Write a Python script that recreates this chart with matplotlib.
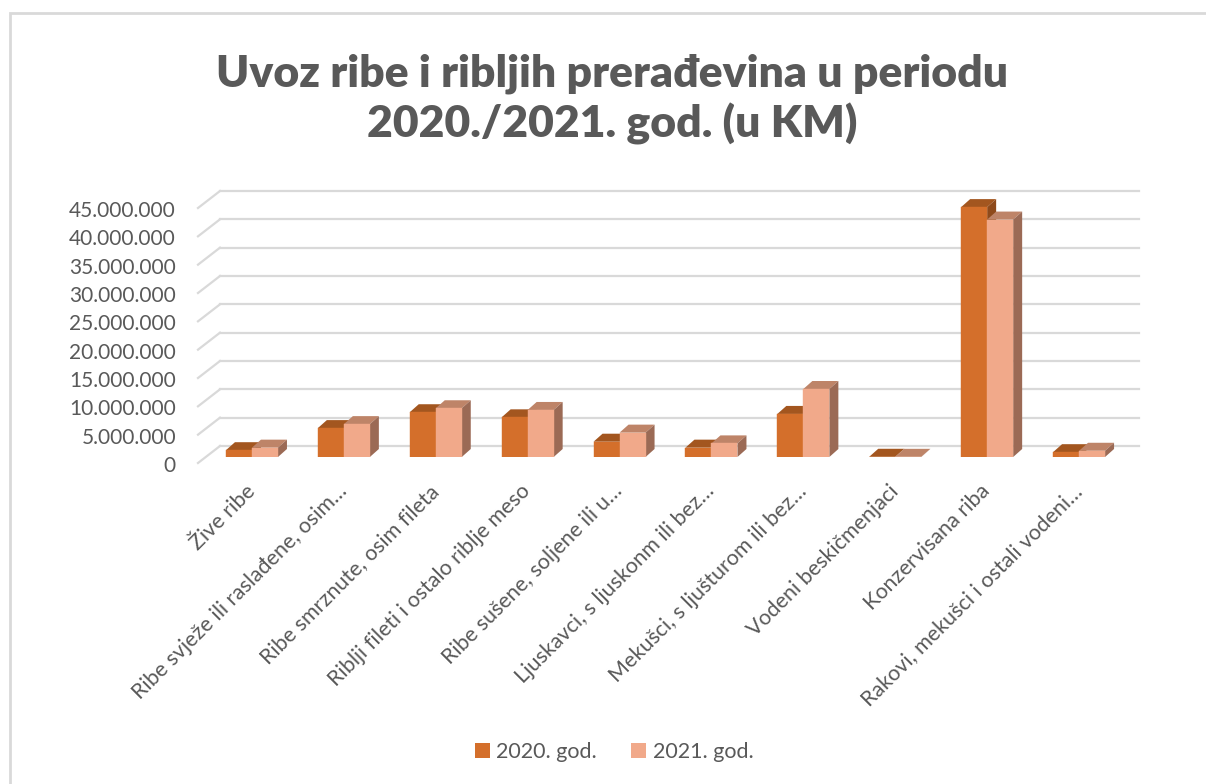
import matplotlib
matplotlib.use("Agg")
import matplotlib.pyplot as plt
from matplotlib.patches import Polygon, Rectangle
from matplotlib.lines import Line2D
from matplotlib.transforms import ScaledTranslation

# data
categories = [
    "Žive ribe",
    "Ribe svježe ili rasla\u0111ene, osim…",
    "Ribe smrznute, osim fileta",
    "Riblji fileti i ostalo riblje meso",
    "Ribe sušene, soljene ili u…",
    "Ljuskavci, s ljuskonm ili bez…",
    "Mekušci, s ljušturom ili bez…",
    "Vodeni beskičmenjaci",
    "Konzervisana riba",
    "Rakovi, mekušci i ostali vodeni…",
]
values_2020 = [1.2e6, 5.1e6, 7.9e6, 7.0e6, 2.7e6, 1.65e6, 7.6e6, 0.04e6, 44.1e6, 0.85e6]
values_2021 = [1.65e6, 5.8e6, 8.6e6, 8.3e6, 4.3e6, 2.4e6, 12.0e6, 0.03e6, 41.9e6, 1.1e6]
series_names = ["2020. god.", "2021. god."]
y_ticks = [0, 5e6, 10e6, 15e6, 20e6, 25e6, 30e6, 35e6, 40e6, 45e6]
title = "Uvoz ribe i ribljih prerađevina u periodu\n2020./2021. god. (u KM)"

# colours: front, top, side
c2020 = ("#D46F2B", "#A3561F", "#8E4A1B")
c2021 = ("#F1A98A", "#BE8468", "#9B6A55")
txt = "#595959"
grid = "#D9D9D9"

plt.rcParams["font.family"] = ["Lato", "DejaVu Sans"]

W, H, DPI = 1206, 784, 100
fig = plt.figure(figsize=(W / DPI, H / DPI), dpi=DPI)
fig.patch.set_facecolor("white")

# bar plane: x -0.5 .. 9.5 -> px 206..1125, y 0..45M -> px 457..202
ax = fig.add_axes([206 / W, 1 - 457 / H, 919 / W, 255 / H])
ax.set_xlim(-0.5, len(categories) - 0.5)
ax.set_ylim(0, 45e6)
ax.axis("off")

def px(dx, dy):
    return ScaledTranslation(dx / DPI, dy / DPI, fig.dpi_scale_trans)

# back wall gridlines (+14px right, +11px up) and side-wall diagonals
back = ax.transData + px(14, 11)
front = ax.transData + px(-8, -6)
for v in y_ticks:
    ax.add_line(Line2D([-0.5, len(categories) - 0.5], [v, v], transform=back,
                       color=grid, lw=1.6, clip_on=False, zorder=1))
    p0 = front.transform((-0.5, v))
    p1 = back.transform((-0.5, v))
    fig.add_artist(Line2D([p0[0] / W, p1[0] / W], [p0[1] / H, p1[1] / H],
                          transform=fig.transFigure, color=grid, lw=1.6, zorder=1))
    ax.text(-0.5, v, f"{int(v):,}".replace(",", "."), transform=front + px(-22, -3),
            ha="right", va="center", fontsize=15, color=txt)

# bar depth in data units
inv = ax.transData.inverted()
o = inv.transform(ax.transData.transform((0, 0)) + (9, 8))
ddx, ddy = o[0], o[1]

w = 0.283
xs = list(range(len(categories)))
for k, (vals, cols, z) in enumerate([(values_2020, c2020, 2), (values_2021, c2021, 5)]):
    lefts = [x - w + k * w for x in xs]
    ax.bar(lefts, vals, width=w, align="edge", color=cols[0], zorder=z + 1,
           edgecolor=cols[0], linewidth=0.3)
    for x0, v in zip(lefts, vals):
        x1 = x0 + w
        ax.add_patch(Polygon([(x0, v), (x1, v), (x1 + ddx, v + ddy), (x0 + ddx, v + ddy)],
                             closed=True, facecolor=cols[1], edgecolor="none",
                             zorder=z, clip_on=False))
        ax.add_patch(Polygon([(x1, 0), (x1 + ddx, ddy), (x1 + ddx, v + ddy), (x1, v)],
                             closed=True, facecolor=cols[2], edgecolor="none",
                             zorder=z, clip_on=False))

# category labels
for x, lab in zip(xs, categories):
    ax.text(x + 0.02, 0, lab, transform=ax.transData + px(-9, -24), rotation=45,
            rotation_mode="anchor", ha="right", va="top", fontsize=15.5, color=txt)

fig.text(612 / W, 1 - 99 / H, title, ha="center", va="center", fontsize=32,
         fontweight="heavy", color=txt, linespacing=1.25)

handles = [Rectangle((0, 0), 1, 1, facecolor=c2020[0]), Rectangle((0, 0), 1, 1, facecolor=c2021[0])]
fig.legend(handles, series_names, loc="center", bbox_to_anchor=(614 / W, 1 - 752 / H), ncol=2,
           frameon=False, fontsize=15.5, handlelength=0.7, handleheight=0.7,
           handletextpad=0.3, columnspacing=1.6, labelcolor=txt)

# chart border
fig.add_artist(Rectangle((10 / W, -0.1), 1.2, 1 - 13 / H + 0.1, transform=fig.transFigure,
                         fill=False, edgecolor="#D9D9D9", lw=2))

fig.savefig("out.png", dpi=DPI)
